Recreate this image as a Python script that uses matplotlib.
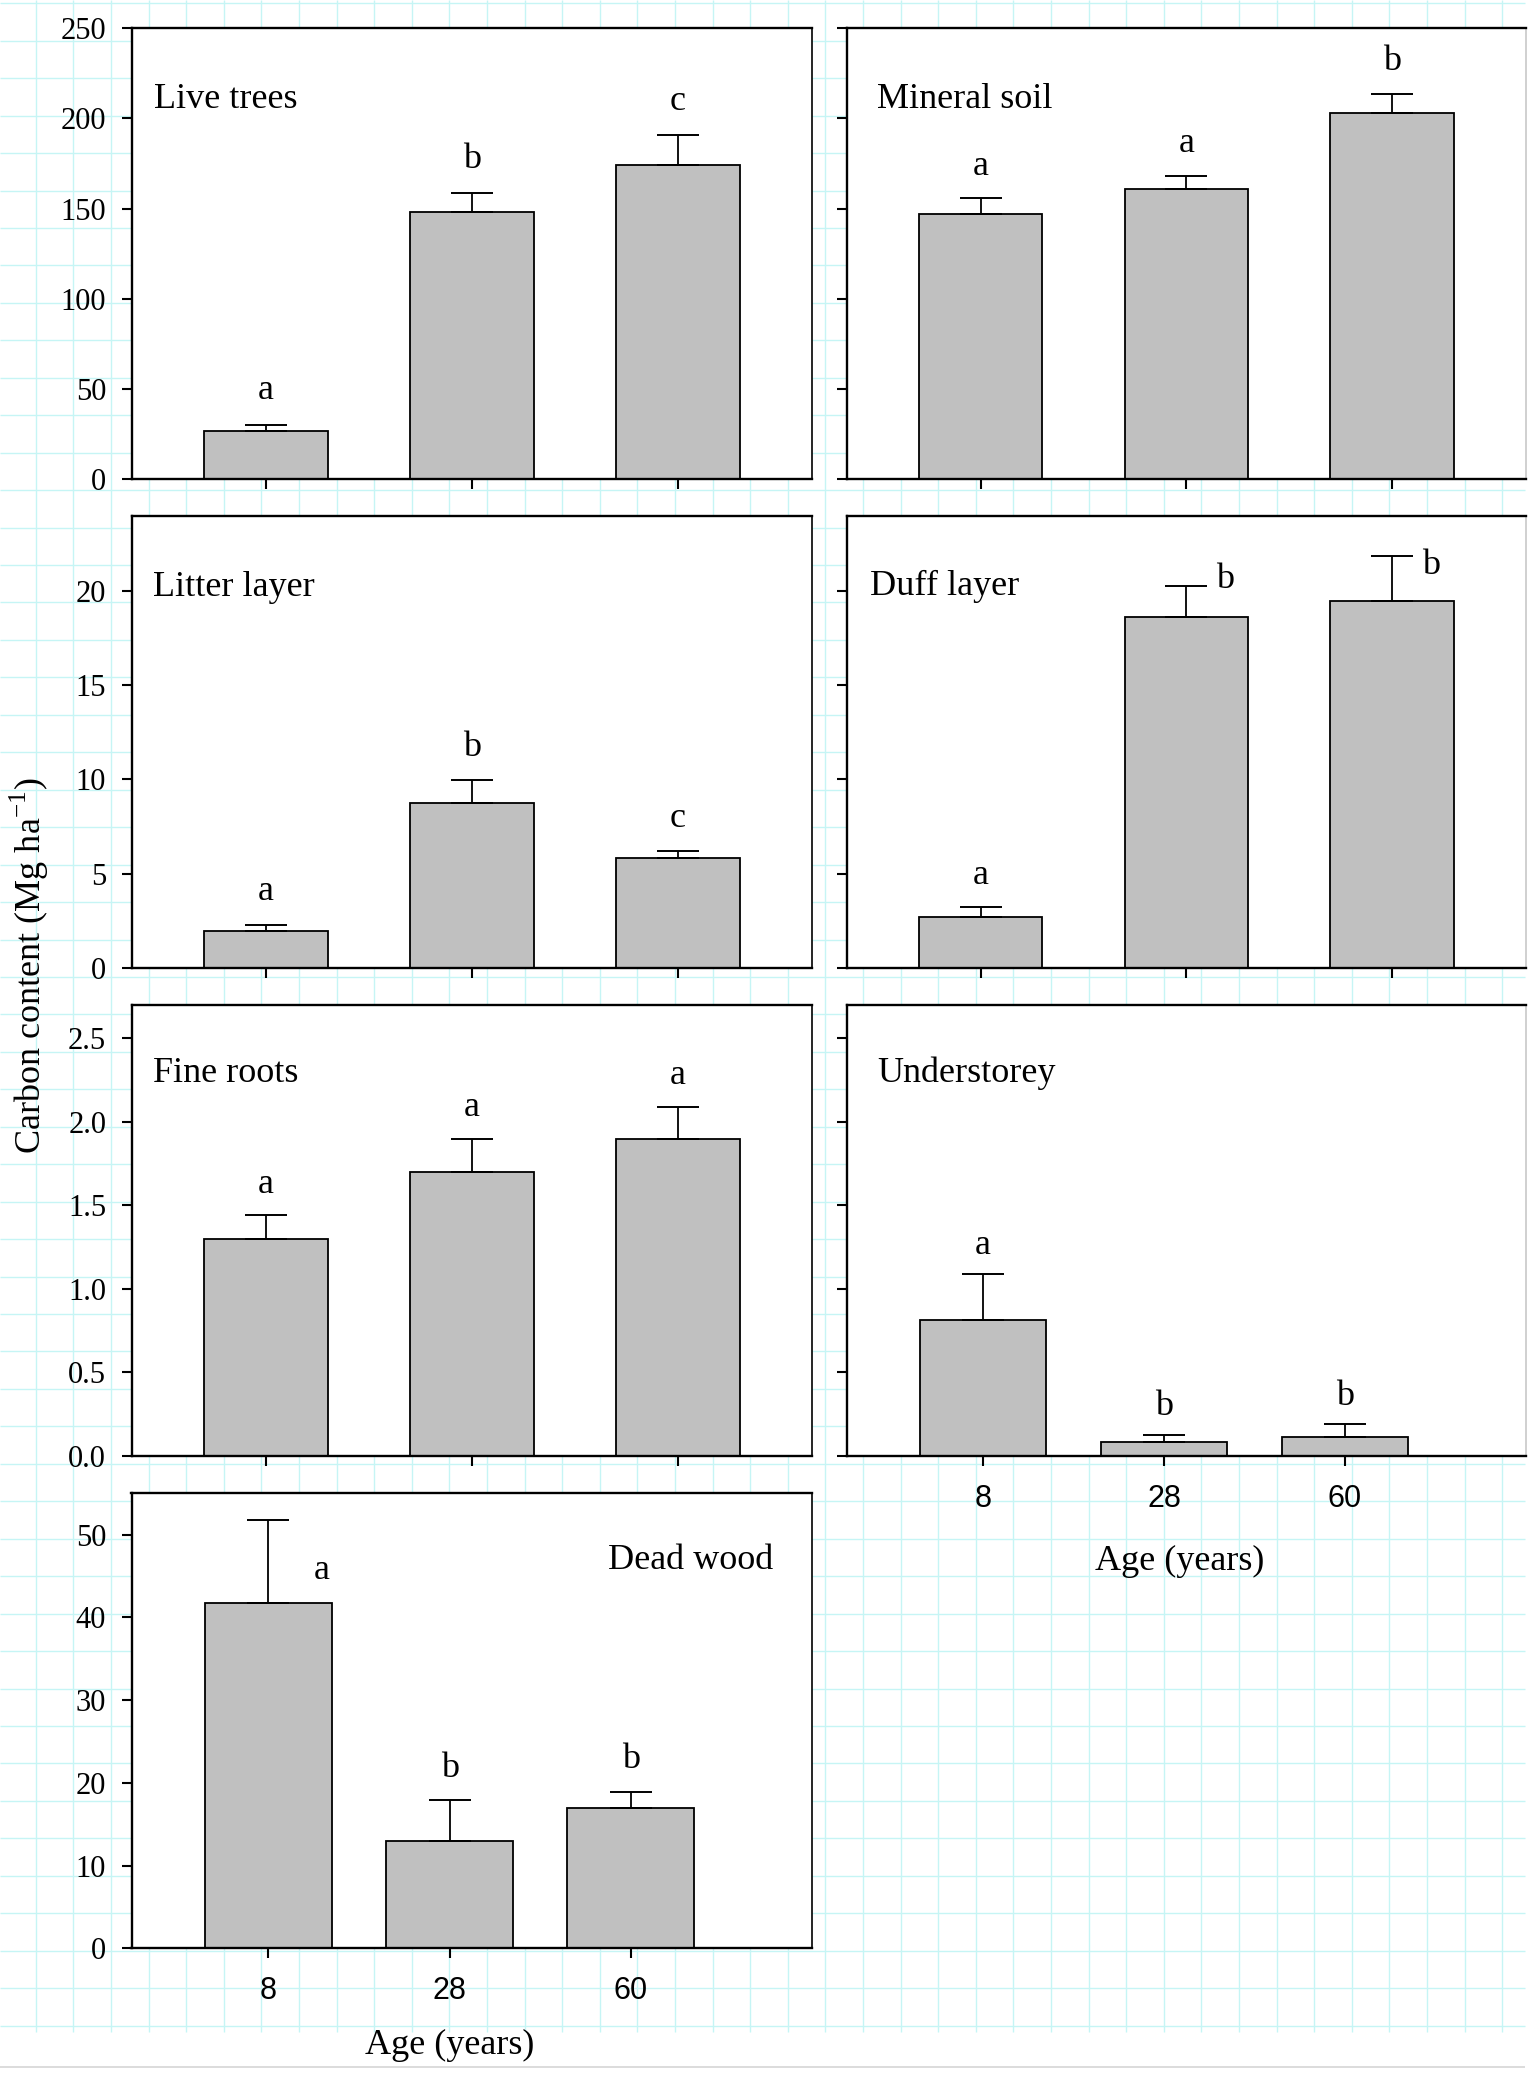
import numpy as np
import matplotlib
matplotlib.use('Agg')
import matplotlib.pyplot as plt
from matplotlib.ticker import FormatStrFormatter

# ---------------- data ----------------
ages = ['8', '28', '60']

live_trees_mean = [26.8, 148.3, 174.2]
live_trees_se = [3.2, 10.1, 16.6]
live_trees_letters = ['a', 'b', 'c']

mineral_soil_mean = [147.1, 160.8, 202.8]
mineral_soil_se = [8.7, 7.4, 10.9]
mineral_soil_letters = ['a', 'a', 'b']

litter_mean = [1.97, 8.77, 5.81]
litter_se = [0.30, 1.18, 0.37]
litter_letters = ['a', 'b', 'c']

duff_mean = [2.72, 18.63, 19.5]
duff_se = [0.48, 1.67, 2.4]
duff_letters = ['a', 'b', 'b']

fine_roots_mean = [1.30, 1.70, 1.90]
fine_roots_se = [0.14, 0.20, 0.19]
fine_roots_letters = ['a', 'a', 'a']

understorey_mean = [0.81, 0.084, 0.114]
understorey_se = [0.28, 0.042, 0.074]
understorey_letters = ['a', 'b', 'b']

dead_wood_mean = [41.7, 13.0, 17.0]
dead_wood_se = [10.1, 4.9, 1.9]
dead_wood_letters = ['a', 'b', 'b']

y_label = 'Carbon content (Mg ha$^{\\mathregular{-1}}$)'
x_label = 'Age (years)'

# ---------------- style ----------------
plt.rcParams['font.family'] = ['Liberation Serif', 'DejaVu Serif']
plt.rcParams['mathtext.fontset'] = 'custom'
plt.rcParams['mathtext.rm'] = 'Liberation Serif'

W, H = 1539, 2073
fig = plt.figure(figsize=(W / 100, H / 100), dpi=100)
fig.patch.set_facecolor('white')

# background graph-paper grid
bg = fig.add_axes([0, 0, 1, 1], zorder=-10)
bg.set_xlim(0, W)
bg.set_ylim(H, 0)
bg.axis('off')
gcol = '#c6f5f5'
xs = np.arange(35.7, 1525, 37.6)
ys = np.arange(3.25, 2033, 37.45)
bg.vlines(xs, 0, 2032, color=gcol, lw=1.0)
bg.hlines(ys, 0, 1525, color=gcol, lw=1.0)
bg.hlines([2067], 0, 1525, color='#d6d6d6', lw=1.2)

def rect(x0, x1, y0, y1):
    return [x0 / W, 1 - y1 / H, (x1 - x0) / W, (y1 - y0) / H]

LCOL = (131.5, 812.0)
RCOL = (846.5, 1526.0)
ROWS = [(28.3, 479.0), (516.0, 967.7), (1005.0, 1455.7), (1493.4, 1948.3)]

PX = 0.72  # px -> pt
bar_color = '#c0c0c0'

def panel(col, row, means, ses, letters, name, ylim, yticks, yfmt,
          ylabels, xlabels, wide, title_xy, title_ha='left',
          letter_offsets=None, letter_dy=34, xlab_pos=None):
    cx = LCOL if col == 0 else RCOL
    ax = fig.add_axes(rect(cx[0], cx[1], *ROWS[row]))
    ax.set_facecolor('white')
    x = np.arange(len(means))
    if wide:
        width = 0.70
        ax.set_xlim(-0.755, 3.0)
    else:
        width = 0.60
        ax.set_xlim(-0.652, 2.652)
    ax.bar(x, means, width=width, color=bar_color, edgecolor='black',
           linewidth=1.3, zorder=2)
    ax.errorbar(x, means, yerr=[np.zeros(len(ses)), ses], fmt='none',
                ecolor='black', elinewidth=1.3, capsize=15, capthick=1.4,
                zorder=3)
    ax.set_ylim(*ylim)
    ax.set_yticks(yticks)
    ax.yaxis.set_major_formatter(FormatStrFormatter(yfmt))
    ax.set_xticks(x)
    ax.set_xticklabels(ages)
    ax.tick_params(axis='both', direction='out', length=7.2, width=1.5,
                   color='black')
    ax.tick_params(axis='y', pad=11, labelsize=22, labelleft=ylabels)
    ax.tick_params(axis='x', pad=13, labelsize=22, labelbottom=xlabels)
    for lab in ax.get_xticklabels():
        lab.set_fontfamily(['Liberation Sans', 'DejaVu Sans'])
    for s in ['left', 'bottom', 'top']:
        ax.spines[s].set_linewidth(1.7)
        ax.spines[s].set_color('black')
    ax.spines['right'].set_linewidth(1.2)
    ax.spines['right'].set_color('black' if col == 0 else '#c8c8c8')
    ax.text(title_xy[0], title_xy[1], name, transform=ax.transAxes,
            ha=title_ha, va='baseline', fontsize=26)
    for i, (m, e, l) in enumerate(zip(means, ses, letters)):
        dx, dy = (0, letter_dy)
        if letter_offsets and i in letter_offsets:
            dx, dy = letter_offsets[i]
        ax.annotate(l, xy=(x[i], m + e), xytext=(dx * PX, dy * PX),
                    textcoords='offset points', ha='center', va='center',
                    fontsize=26)
    if xlab_pos is not None:
        ax.text(xlab_pos[0], xlab_pos[1], x_label, transform=ax.transAxes,
                ha='center', va='center', fontsize=26)
    return ax

panel(0, 0, live_trees_mean, live_trees_se, live_trees_letters, 'Live trees',
      (0, 250), np.arange(0, 251, 50), '%d', True, False, False,
      (0.033, 0.8225))
panel(1, 0, mineral_soil_mean, mineral_soil_se, mineral_soil_letters,
      'Mineral soil', (0, 250), np.arange(0, 251, 50), '%d', False, False,
      False, (0.0456, 0.8225), letter_dy=32)
panel(0, 1, litter_mean, litter_se, litter_letters, 'Litter layer',
      (0, 24), np.arange(0, 21, 5), '%d', True, False, False,
      (0.032, 0.8236), letter_dy=33)
panel(1, 1, duff_mean, duff_se, duff_letters, 'Duff layer',
      (0, 24), np.arange(0, 21, 5), '%d', False, False, False,
      (0.034, 0.825), letter_offsets={1: (39, 6), 2: (39, -10)},
      letter_dy=32)
panel(0, 2, fine_roots_mean, fine_roots_se, fine_roots_letters, 'Fine roots',
      (0, 2.7), np.arange(0, 2.51, 0.5), '%.1f', True, False, False,
      (0.032, 0.830), letter_dy=31)
panel(1, 2, understorey_mean, understorey_se, understorey_letters,
      'Understorey', (0, 2.7), np.arange(0, 2.51, 0.5), '%.1f', False, True,
      True, (0.0456, 0.830), letter_dy=28, xlab_pos=(0.491, -0.2354))
panel(0, 3, dead_wood_mean, dead_wood_se, dead_wood_letters, 'Dead wood',
      (0, 55), np.arange(0, 51, 10), '%d', True, True, True,
      (0.943, 0.834), title_ha='right', letter_dy=32,
      letter_offsets={0: (53, -50.5)}, xlab_pos=(0.468, -0.213))

fig.text(29 / W, 1 - 966 / H, y_label, rotation=90, ha='center',
         va='center', fontsize=26)

fig.savefig('out.png', dpi=100, facecolor='white')
